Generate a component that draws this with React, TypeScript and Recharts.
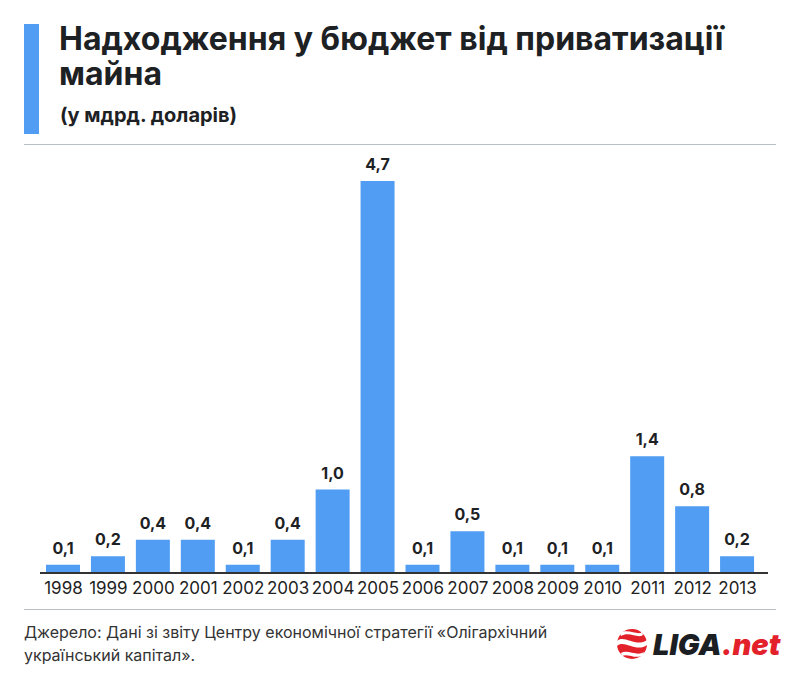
import { Bar, BarChart, LabelList, XAxis, YAxis } from "recharts";

const years = ["1998", "1999", "2000", "2001", "2002", "2003", "2004", "2005", "2006", "2007", "2008", "2009", "2010", "2011", "2012", "2013"];
const revenue = [0.1, 0.2, 0.4, 0.4, 0.1, 0.4, 1.0, 4.7, 0.1, 0.5, 0.1, 0.1, 0.1, 1.4, 0.8, 0.2];

const data = years.map((year, i) => ({ year, value: revenue[i] }));

const FONT = "Inter, 'Noto Sans', sans-serif";

function fmt(v: number) {
  return v.toFixed(1).replace(".", ",");
}

function LigaLogo() {
  return (
    <svg width={170} height={40} style={{ position: "absolute", left: 612, top: 624 }}>
      <g transform="translate(20,20)">
        <circle r={15} fill="#e3212b" />
        <path d="M-15,-3 C-8,-10 4,4 15,-4 L15,1 C4,9 -8,-5 -15,2 Z" fill="#fff" />
        <path d="M-12,-11 C-4,-16 6,-8 10,-12 L11,-9 C6,-5 -3,-13 -11,-8 Z" fill="#fff" />
        <path d="M-11,9 C-4,5 5,13 12,8 L11,11 C4,16 -4,9 -10,12 Z" fill="#fff" />
      </g>
      <text x={41} y={31} fontFamily={FONT} fontSize={29} fontWeight={900} fontStyle="italic" fill="#1b1e22">
        LIGA<tspan fill="#e3212b">.net</tspan>
      </text>
    </svg>
  );
}

export default function App() {
  return (
    <div style={{ position: "absolute", left: 0, top: 0, width: 800, height: 691, background: "#fff", fontFamily: FONT, overflow: "hidden" }}>
      <div style={{ position: "absolute", left: 24, top: 24, width: 15, height: 110, background: "#509df3" }} />
      <div style={{ position: "absolute", left: 59, top: 21, width: 730, fontSize: 32, fontWeight: 700, lineHeight: "35px", color: "#1d2124" }}>
        Надходження у бюджет від приватизації майна
      </div>
      <div style={{ position: "absolute", left: 60, top: 103, fontSize: 20, fontWeight: 700, color: "#1d2124" }}>
        (у мдрд. доларів)
      </div>
      <div style={{ position: "absolute", left: 24, top: 144, width: 752, height: 1, background: "#b6bec6" }} />

      <div style={{ position: "absolute", left: 0, top: 0 }}>
        <BarChart width={800} height={691} data={data} margin={{ top: 156, right: 32, bottom: 88, left: 40 }} barCategoryGap={0}>
          <YAxis width={0} domain={[0, 5]} tick={false} tickLine={false} axisLine={{ stroke: "#333", strokeWidth: 2 }} />
          <XAxis
            dataKey="year"
            height={30}
            padding={{ left: 1, right: 8 }}
            tickLine={false}
            tickMargin={3}
            axisLine={{ stroke: "#333", strokeWidth: 2 }}
            tick={{ fontSize: 17, fill: "#222", fontFamily: FONT }}
            interval={0}
          />
          <Bar dataKey="value" fill="#509df3" barSize={34} isAnimationActive={false}>
            <LabelList
              dataKey="value"
              position="top"
              offset={11}
              formatter={(v: any) => fmt(Number(v))}
              style={{ fontSize: 16, fontWeight: 700, fill: "#1d2124", fontFamily: FONT }}
            />
          </Bar>
        </BarChart>
      </div>

      <div style={{ position: "absolute", left: 24, top: 609, width: 752, height: 1, background: "#b6bec6" }} />
      <div style={{ position: "absolute", left: 24, top: 621, width: 560, fontSize: 16, lineHeight: "23px", color: "#333" }}>
        Джерело: Дані зі звіту Центру економічної стратегії «Олігархічний український капітал».
      </div>
      <LigaLogo />
    </div>
  );
}
